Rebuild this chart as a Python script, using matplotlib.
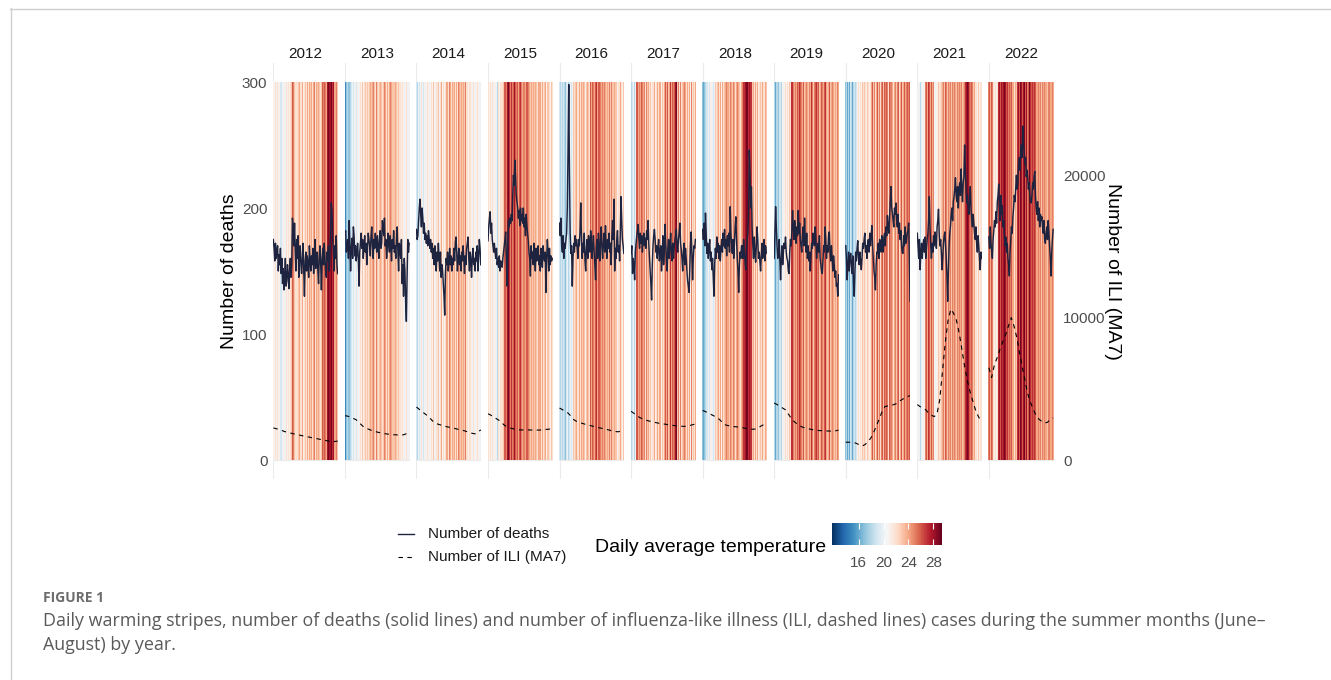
import numpy as np
import matplotlib
matplotlib.use("Agg")
import matplotlib.pyplot as plt
from matplotlib.colors import Normalize
from matplotlib.cm import ScalarMappable
from matplotlib.lines import Line2D

plt.rcParams['font.family'] = ['Liberation Sans', 'DejaVu Sans']

# ---------------- data ----------------
years = [2012, 2013, 2014, 2015, 2016, 2017, 2018, 2019, 2020, 2021, 2022]

temp_2012 = [21,20,21,22,20,21,22,21,20,21, 19,18,19,20,21,22,21,20,22,22, 21,22,22,21,22,21,23,26,27,25,
             23,22,21,22,22,21,23,24,22,23, 22,24,23,21,22,23,22,22,24,23, 22,24,25,23,24,22,23,24,25,23,
             22,24,23,25,24,23,24,22,23,25, 26,25,26,27,25,24,25,28,29,28, 27,28,29,28,27,28,26,24,24,25, 24,23]
temp_2013 = [16,15,17,16,18,17,16,17,18,19, 18,20,19,18,20,21,19,20,21,20, 19,21,22,21,22,23,21,22,22,23,
             21,22,23,22,21,23,24,24,23,24, 25,24,23,22,24,25,23,24,22,23, 24,26,23,22,24,23,25,24,23,22,
             24,23,22,24,23,25,24,23,22,23, 23,22,24,23,22,21,23,22,23,22, 21,23,22,21,20,22,21,22,22,20, 21,20]
temp_2014 = [19,18,19,20,19,21,20,22,21,20, 19,21,22,20,21,22,22,21,20,19, 21,22,20,21,23,22,21,20,22,21,
             22,23,21,20,22,24,23,21,22,20, 21,22,23,24,24,22,23,25,24,23, 22,24,23,25,24,22,23,24,22,23,
             25,24,23,22,24,23,22,24,23,25, 24,22,22,23,21,22,22,22,21,20, 22,22,21,22,20,21,22,22,21,20, 19,20]
temp_2015 = [21,22,21,20,22,21,22,21,20,21, 22,21,20,18,21,22,21,22,22,22, 21,22,23,26,27,26,25,27,28,29,
             27,26,25,27,26,25,26,27,28,26, 25,27,26,24,25,26,27,25,26,24, 25,26,25,24,26,25,26,25,24,24,
             23,24,24,23,24,22,23,24,24,23, 22,24,23,24,24,23,22,24,23,22, 23,24,22,21,23,22,23,22,21,22, 23,22]
temp_2016 = [19,18,17,19,18,20,19,18,17,18, 19,20,19,18,19,20,21,19,20,22, 23,22,21,23,24,22,23,22,24,23,
             22,24,23,22,24,23,22,21,23,22, 24,23,22,25,26,24,25,26,25,24, 24,26,27,25,24,26,25,26,25,24,
             24,25,24,26,25,24,23,25,24,23, 24,25,23,24,25,23,23,22,24,23, 22,23,21,22,23,22,24,23,22,21, 22,23]
temp_2017 = [19,18,19,20,19,18,20,25,26,26, 24,22,25,24,22,26,25,23,24,25, 22,24,25,23,21,24,22,23,24,21,
             22,24,22,24,23,21,22,24,23,22, 24,22,24,21,23,24,22,24,25,26, 24,25,26,23,24,26,27,24,23,26,
             25,26,24,28,29,25,23,25,22,24, 25,22,24,23,24,21,25,24,22,23, 24,22,23,24,21,25,24,22,23,24, 22,24]
temp_2018 = [17,16,18,17,18,19,20,19,21,20, 19,21,20,21,20,19,21,20,23,24, 22,23,24,25,22,24,23,21,24,25,
             22,23,24,22,25,24,21,24,23,25, 22,24,23,21,25,24,22,23,24,25, 22,24,23,25,22,24,25,26,27,27,
             28,28,29,29,28,27,28,29,27,27, 26,23,24,22,23,24,22,23,24,21, 22,24,23,22,21,24,22,23,22,24, 23,22]
temp_2019 = [18,17,16,18,19,18,17,19,20,19, 18,20,21,20,22,21,22,21,20,22, 21,22,23,22,27,26,27,25,26,24,
             25,23,24,26,25,24,27,26,23,25, 24,26,25,23,24,27,25,24,26,23, 25,24,26,27,25,24,23,25,26,24,
             27,25,24,26,23,25,24,26,25,23, 24,26,25,27,24,23,25,24,26,25, 23,24,26,25,24,23,25,24,23,24, 25,24]
temp_2020 = [17,18,16,17,18,16,17,19,18,17, 16,18,19,17,18,19,20,21,22,21, 23,22,21,22,23,22,21,23,22,21,
             22,23,22,23,21,22,24,25,26,23, 26,25,22,25,24,26,23,25,25,22, 24,25,26,23,24,26,25,22,26,25,
             24,22,26,25,23,25,24,26,22,24, 25,26,23,25,24,26,22,24,25,26, 23,25,24,26,22,24,25,26,24,25, 26,25]
temp_2021 = [20,19,21,20,19,18,20,21,19,20, 21,20,25,26,24,25,27,26,25,24, 26,25,24,25,21,22,20,21,22,21,
             23,22,21,22,23,22,24,25,23,24, 26,25,24,23,25,26,24,25,23,27, 25,24,26,25,24,23,26,25,24,27,
             25,24,26,25,23,24,26,25,27,26, 28,29,28,27,26,25,24,26,25,24, 23,24,22,23,22,21,22,23,21,22, 21,22]
temp_2022 = [25,26,24,25,26,25,24,22,21,22, 20,21,22,21,27,28,26,27,28,27, 26,28,29,27,28,26,27,28,25,26,
             27,25,26,24,23,24,22,23,24,23, 25,27,28,26,27,29,28,27,26,28, 29,27,26,28,27,25,26,28,29,27,
             26,28,27,26,25,27,26,24,25,24, 25,26,24,25,24,23,25,24,26,25, 24,25,24,23,25,24,25,24,23,24, 25,24]

deaths_2012 = [175,168,158,172,160,165,170,150,163,155, 168,148,160,140,152,135,145,160,138,142,
               155,148,136,150,160,145,155,192,185,170, 188,165,150,175,160,178,145,162,170,155,
               148,160,172,150,130,158,165,150,162,155, 145,170,158,150,162,155,168,148,160,175,
               152,158,165,150,140,162,170,155,135,160, 168,155,172,160,150,145,165,158,170,150,
               160,185,204,198,175,165,150,170,160,178, 155,148]
deaths_2013 = [178,182,165,170,175,160,190,172,150,168, 176,160,185,178,162,170,158,165,172,160,
               138,165,172,180,168,175,160,170,178,165, 172,155,168,180,175,170,162,178,185,170,
               160,175,168,180,172,165,178,170,160,175, 182,168,172,190,185,178,192,170,175,160,
               168,180,172,165,178,170,158,175,168,182, 165,170,160,175,185,165,150,172,168,160,
               175,140,155,130,160,150,125,110,145,175, 165,172]
deaths_2014 = [183,175,178,190,200,207,195,185,200,192, 180,188,175,180,172,178,170,182,176,168,
               175,165,172,160,168,155,170,162,150,165, 158,172,160,150,165,145,155,150,140,130,
               115,148,160,155,165,150,158,168,155,162, 150,160,155,168,158,172,177,165,150,160,
               168,155,162,150,165,158,170,160,148,162, 155,168,172,177,160,150,165,158,145,162,
               168,155,160,150,165,158,170,150,162,175, 168,155]
deaths_2015 = [174,185,192,197,180,188,175,170,165,172, 165,160,168,155,160,153,162,150,158,155,
               153,160,165,170,175,181,160,138,170,190, 185,192,188,195,190,210,226,218,238,225,
               210,205,200,192,198,186,200,190,195,188, 200,185,192,178,195,186,180,174,165,160,
               146,170,160,165,155,172,160,150,168,158, 165,170,155,162,150,168,160,153,170,162,
               158,165,133,160,175,165,150,168,155,162, 158,160]
deaths_2016 = [188,178,192,170,165,178,160,172,168,175, 180,200,245,298,230,180,164,170,138,160,
               172,165,178,170,175,168,160,175,170,182, 204,178,160,172,165,180,158,150,168,175,
               160,178,170,165,182,175,160,170,178,165, 155,143,168,175,160,180,170,158,175,185,
               168,160,172,180,165,186,170,160,175,168, 180,165,172,155,178,190,175,207,150,168,
               160,175,182,165,170,158,180,209,190,175, 170,164]
deaths_2017 = [164,170,148,160,155,143,165,172,178,182, 187,175,168,180,172,178,165,175,180,170,
               176,168,182,175,190,172,160,150,140,127, 155,170,178,183,175,165,170,160,168,175,
               158,165,170,150,162,178,155,165,187,172, 160,150,168,175,160,170,180,165,158,172,
               160,168,175,178,183,170,165,175,180,188, 172,167,160,150,165,172,155,168,160,150,
               142,138,133,150,170,181,165,143,160,170, 168,175]
deaths_2018 = [183,175,188,170,196,180,164,172,160,168, 175,158,165,151,160,145,130,155,168,160,
               177,165,172,160,170,158,168,175,165,180, 170,183,168,175,162,178,170,180,165,201,
               180,170,164,175,160,172,185,193,175,160, 150,133,155,165,160,170,170,160,175,165,
               158,151,168,175,180,195,246,230,200,217, 185,170,160,177,165,157,170,185,175,160,
               165,158,150,162,172,160,168,175,158,170, 165,164]
deaths_2019 = [160,180,201,185,170,160,164,175,158,143, 160,170,155,165,172,168,177,165,160,158,
               150,148,165,175,170,182,198,185,175,190, 180,172,185,178,198,180,188,175,170,165,
               178,185,170,192,175,165,180,160,170,158, 165,150,162,172,168,180,175,170,185,175,
               160,168,172,165,178,160,155,150,148,158, 170,165,185,175,160,170,165,178,181,165,
               158,170,160,150,162,155,145,150,138,140, 130,147]
deaths_2020 = [170,160,143,155,165,150,160,164,155,148, 162,140,130,150,165,158,168,174,160,155,
               165,158,151,160,172,168,175,180,165,170, 160,172,175,165,180,170,178,186,170,160,
               150,145,135,155,165,164,172,160,175,170, 165,178,170,165,177,180,170,185,178,194,
               185,180,192,205,217,200,196,190,185,200, 195,204,190,185,195,180,188,175,182,170,
               165,164,178,170,185,172,175,180,182,188, 160,126]
deaths_2021 = [180,170,160,175,151,165,172,160,170,175, 165,177,160,168,175,180,190,209,185,170,
               160,172,165,178,170,181,175,168,185,190, 199,180,170,175,165,151,160,172,178,181,
               170,160,145,126,150,170,180,186,195,200, 190,205,209,215,224,210,205,217,200,215,
               220,210,231,215,205,220,225,250,230,215, 204,210,200,195,205,217,200,190,185,195,
               188,180,175,185,172,165,178,170,160,151, 165,160]
deaths_2022 = [177,168,185,172,165,160,175,182,190,185, 197,188,205,210,219,200,190,210,195,202,
               185,190,178,170,177,165,172,160,155,146, 165,175,185,180,193,200,210,205,215,226,
               215,220,235,240,230,245,250,240,265,250, 245,235,240,225,230,224,215,220,210,205,
               204,210,220,215,225,229,210,200,195,205, 190,200,185,195,190,193,185,180,190,175,
               172,180,185,175,190,180,170,160,146,165, 175,183]

# ILI (7-day moving average), sampled every ~4 days across the summer
ili_2012 = [2250,2200,2150,2080,2000,1950,1900,1850,1800,1760,1720,1680,
            1640,1600,1560,1520,1480,1440,1400,1360,1320,1290,1300,1330]
ili_2013 = [3110,3080,3020,2920,2830,2650,2450,2280,2200,2120,2050,1990,
            1940,1900,1860,1830,1800,1780,1770,1760,1760,1770,1850,2000]
ili_2014 = [3720,3560,3400,3250,3100,2900,2700,2560,2500,2440,2380,2330,
            2290,2250,2200,2150,2100,2060,2000,1930,1870,1840,1950,2120]
ili_2015 = [3250,3150,3020,2900,2780,2600,2420,2320,2250,2190,2140,2120,
            2110,2110,2110,2110,2100,2100,2100,2110,2130,2150,2170,2190]
ili_2016 = [3650,3540,3420,3300,3100,2850,2720,2650,2580,2520,2470,2420,
            2370,2320,2270,2230,2190,2140,2090,2040,2000,1980,2040,2100]
ili_2017 = [3420,3280,3130,2990,2900,2820,2760,2710,2660,2620,2580,2550,
            2520,2490,2460,2430,2400,2380,2370,2360,2380,2420,2480,2520]
ili_2018 = [3480,3400,3300,3200,3100,3000,2850,2650,2480,2420,2380,2350,
            2330,2310,2280,2240,2200,2170,2160,2180,2280,2400,2500,2590]
ili_2019 = [4000,3900,3780,3650,3530,3250,2950,2720,2560,2420,2320,2250,
            2200,2160,2120,2090,2070,2060,2050,2040,2030,2020,2050,2100]
ili_2020 = [1250,1250,1240,1230,1150,1050,990,1100,1300,1550,1950,2400,
            2900,3400,3750,3800,3850,3880,3950,4100,4230,4350,4450,4520]
ili_2021 = [3890,3750,3650,3530,3300,3150,3050,3200,4200,6200,8250,9800,
            10600,10300,9800,8900,7700,6500,5500,4700,4050,3400,3000,2710]
ili_2022 = [6480,5800,6700,7200,7800,8300,8800,9400,10000,9400,8600,7500,
            6500,5500,4600,4000,3500,3100,2850,2700,2600,2650,2850,2950]

temps = dict(zip(years, [temp_2012, temp_2013, temp_2014, temp_2015, temp_2016, temp_2017,
                         temp_2018, temp_2019, temp_2020, temp_2021, temp_2022]))
deaths = dict(zip(years, [deaths_2012, deaths_2013, deaths_2014, deaths_2015, deaths_2016, deaths_2017,
                          deaths_2018, deaths_2019, deaths_2020, deaths_2021, deaths_2022]))
ili = dict(zip(years, [ili_2012, ili_2013, ili_2014, ili_2015, ili_2016, ili_2017,
                       ili_2018, ili_2019, ili_2020, ili_2021, ili_2022]))

death_ticks = [0, 100, 200, 300]
ili_ticks = [0, 10000, 20000]
temp_ticks = [16, 20, 24, 28]
temp_limits = (11.7, 29.4)
ILI_SCALE = 88.5   # secondary axis: ILI = deaths-axis value * ILI_SCALE

# ---------------- layout ----------------
W, H = 1331, 680
fig = plt.figure(figsize=(W / 100, H / 100), dpi=100)
fig.patch.set_facecolor('white')


def rect(l, t, w, h):
    return [l / W, 1 - (t + h) / H, w / W, h / H]


cmap = plt.get_cmap('RdBu_r')
norm = Normalize(*temp_limits)
GRID = '#ebebeb'
AX_TXT = '#4d4d4d'
LINE_COL = '#1e2440'

panel_left0, panel_step, panel_w = 273.0, 71.55, 65.0
panel_top, panel_h = 63.1, 415.8

for k, yr in enumerate(years):
    ax = fig.add_axes(rect(panel_left0 + panel_step * k, panel_top, panel_w, panel_h))
    t = np.asarray(temps[yr], dtype=float)
    n = len(t)
    ax.set_xlim(-0.5, n - 0.5)
    ax.set_ylim(-15, 315)
    for v in death_ticks:
        ax.axhline(v, color=GRID, lw=0.8, zorder=0)
    for v in [50, 150, 250]:
        ax.axhline(v, color=GRID, lw=0.4, zorder=0)
    ax.axvline(0, color=GRID, lw=0.8, zorder=0)
    ax.pcolormesh(np.arange(n + 1) - 0.5, [0, 300], t[None, :], cmap=cmap, norm=norm,
                  shading='flat', zorder=1, antialiased=False, linewidth=0)
    d = np.asarray(deaths[yr], dtype=float)
    ax.plot(np.arange(len(d)) * (n / len(d)), d, color=LINE_COL, lw=1.05, zorder=3,
            solid_joinstyle='round')
    il = np.asarray(ili[yr], dtype=float)
    ax.plot(np.linspace(0, n - 1, len(il)), il / ILI_SCALE, color='black', lw=0.8,
            ls=(0, (4, 4)), zorder=3)
    for s in ax.spines.values():
        s.set_visible(False)
    ax.set_xticks([])
    ax.set_yticks(death_ticks)
    ax.tick_params(axis='y', length=0, pad=4, labelsize=11, labelcolor=AX_TXT)
    if k > 0:
        ax.set_yticklabels([])
    ax.set_facecolor('none')
    ax.text(0.5, 1 + 9.5 / panel_h, str(yr), transform=ax.transAxes, ha='center', va='center',
            fontsize=11, color='#1a1a1a')
    if k == len(years) - 1:
        sec = ax.secondary_yaxis('right', functions=(lambda v: v * ILI_SCALE,
                                                    lambda v: v / ILI_SCALE))
        sec.set_yticks(ili_ticks)
        sec.tick_params(axis='y', length=0, pad=7, labelsize=11, labelcolor=AX_TXT)
        for s in sec.spines.values():
            s.set_visible(False)

# axis titles
fig.text(229 / W, 1 - 271 / H, 'Number of deaths', rotation=90, ha='center', va='center',
         fontsize=14, color='black')
fig.text(1112 / W, 1 - 271 / H, 'Number of ILI (MA7)', rotation=-90, ha='center', va='center',
         fontsize=14, color='black')

# overlay for legend, border, caption
ov = fig.add_axes([0, 0, 1, 1], zorder=-1)
ov.set_xlim(0, W)
ov.set_ylim(H, 0)
ov.axis('off')
ov.add_line(Line2D([10, W], [8.5, 8.5], color='#cfcfcf', lw=1.0))
ov.add_line(Line2D([10.5, 10.5], [8, H], color='#cfcfcf', lw=1.0))

ov.add_line(Line2D([398, 414], [534, 534], color=LINE_COL, lw=1.0))
ov.add_line(Line2D([398, 414], [557, 557], color='black', lw=0.8, ls=(0, (4, 4))))
ov.text(428, 534, 'Number of deaths', fontsize=11, color='#1a1a1a', va='center', ha='left')
ov.text(428, 557, 'Number of ILI (MA7)', fontsize=11, color='#1a1a1a', va='center', ha='left')
ov.text(595, 547, 'Daily average temperature', fontsize=14, color='black', va='center', ha='left')

cax = fig.add_axes(rect(832, 523, 110, 22))
cb = fig.colorbar(ScalarMappable(norm=norm, cmap=cmap), cax=cax, orientation='horizontal')
cb.set_ticks(temp_ticks)
cb.outline.set_visible(False)
cax.tick_params(axis='x', direction='in', length=4, width=0.8, color='white', top=True,
                labelsize=11, labelcolor=AX_TXT, pad=8)

cap_font = ['Open Sans', 'DejaVu Sans']
ov.text(43, 598, 'FIGURE 1', fontsize=10, color='#6d6d6d', fontweight='bold', va='center',
        ha='left', family=cap_font)
ov.text(43, 621, 'Daily warming stripes, number of deaths (solid lines) and number of influenza-like '
        'illness (ILI, dashed lines) cases during the summer months (June\u2013',
        fontsize=12.9, color='#5a5a5a', va='center', ha='left', family=cap_font)
ov.text(43, 645, 'August) by year.', fontsize=12.9, color='#5a5a5a', va='center', ha='left',
        family=cap_font)

fig.savefig('out.png', dpi=100, facecolor='white')
